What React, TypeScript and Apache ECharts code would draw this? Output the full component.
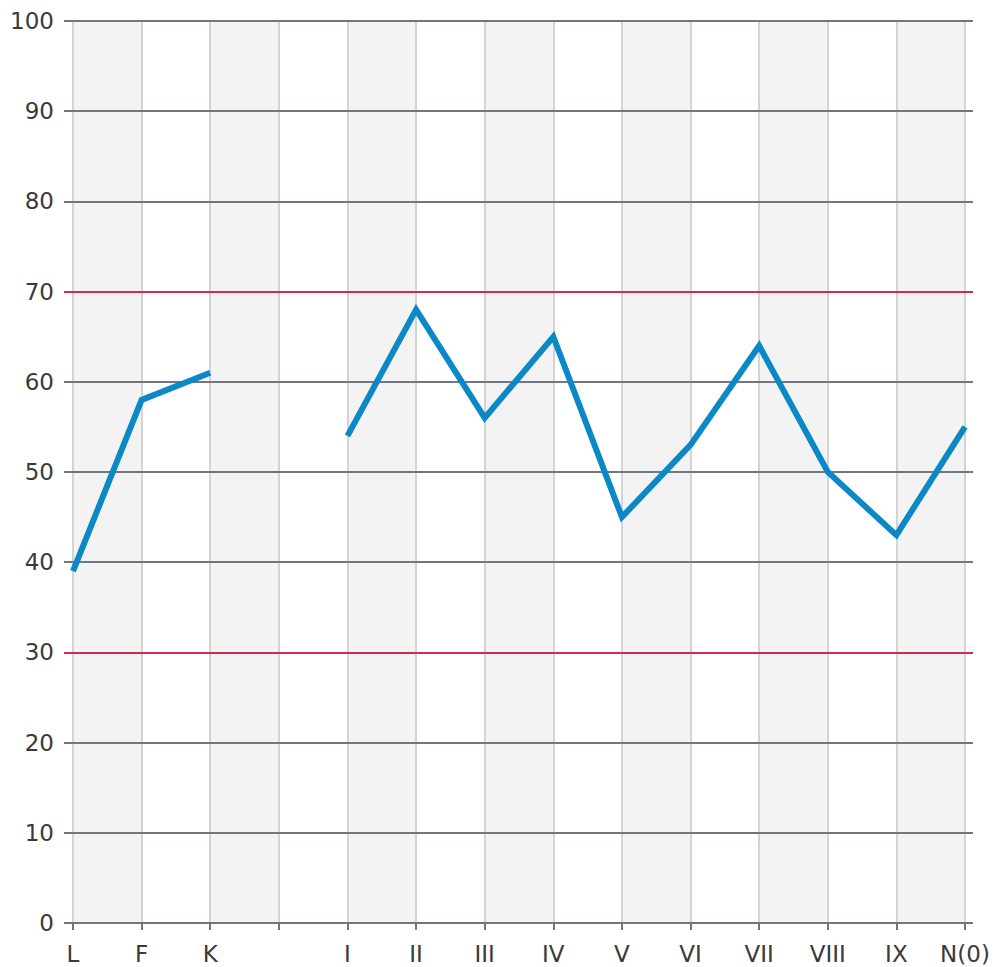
import React, { useEffect, useRef } from "react";
import * as echarts from "echarts";

const categories = ["L", "F", "K", "", "I", "II", "III", "IV", "V", "VI", "VII", "VIII", "IX", "N(0)"];
const values: (number | null)[] = [39, 58, 61, null, 54, 68, 56, 65, 45, 53, 64, 50, 43, 55];
const yMin = 0;
const yMax = 100;
const yInterval = 10;
const limitValues = [30, 70];

export default function App() {
  const ref = useRef<HTMLDivElement>(null);
  useEffect(() => {
    if (!ref.current) return;
    const chart = echarts.init(ref.current, undefined, { renderer: "svg" });
    const gray = "#6f7882";
    const red = "#d42a4e";
    const lineColors: string[] = [];
    for (let v = yMin; v <= yMax; v += yInterval) {
      lineColors.push(limitValues.includes(v) ? red : gray);
    }
    chart.setOption({
      animation: false,
      grid: [
        { left: 64, right: 22, top: 21, bottom: 44 },
        { left: 73, right: 30, top: 21, bottom: 44 },
      ],
      xAxis: [
        { type: "value", gridIndex: 0, min: 0, max: 1, show: false },
        {
          type: "category",
          gridIndex: 1,
          data: categories,
          boundaryGap: false,
          z: 0,
          axisLine: { show: false },
          axisTick: { show: true, length: 7, lineStyle: { color: gray, width: 2 } },
          axisLabel: {
            margin: 19,
            color: "#3a3a3a",
            fontSize: 23,
            fontFamily: "DejaVu Sans",
            interval: 0,
          },
          splitLine: { show: true, lineStyle: { color: "#d4d4d4", width: 2 } },
          splitArea: { show: true, areaStyle: { color: ["#f3f3f3", "#ffffff"] } },
        },
      ],
      yAxis: [
        {
          type: "value",
          gridIndex: 0,
          min: yMin,
          max: yMax,
          interval: yInterval,
          z: 1,
          axisLine: { show: false },
          axisTick: { show: false },
          axisLabel: {
            margin: 10,
            color: "#3a3a3a",
            fontSize: 23,
            fontFamily: "DejaVu Sans",
          },
          splitLine: { show: true, lineStyle: { color: lineColors, width: 2 } },
        },
        {
          type: "value",
          gridIndex: 1,
          min: yMin,
          max: yMax,
          interval: yInterval,
          show: false,
          splitLine: { show: false },
        },
      ],
      series: [
        {
          type: "line",
          xAxisIndex: 1,
          yAxisIndex: 1,
          data: values,
          showSymbol: false,
          symbol: "none",
          connectNulls: false,
          z: 3,
          lineStyle: { color: "#0b88c6", width: 6, join: "miter", cap: "butt" },
        },
      ],
    });
    return () => chart.dispose();
  }, []);
  return <div ref={ref} style={{ width: 995, height: 967, position: "absolute", left: 0, top: 0 }} />;
}
